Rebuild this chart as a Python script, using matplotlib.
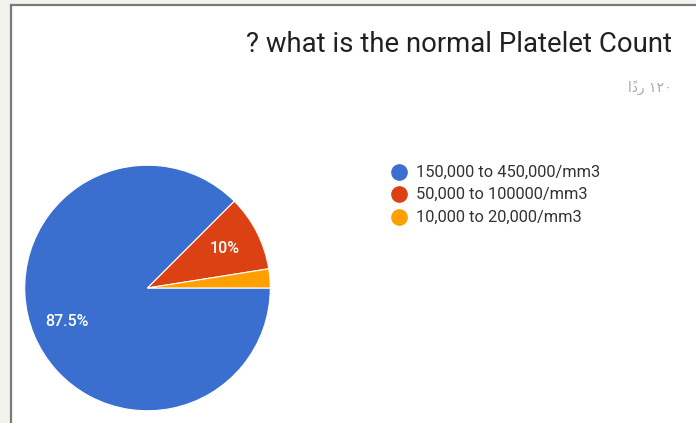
import matplotlib
matplotlib.use("Agg")
import matplotlib.pyplot as plt
from matplotlib.patches import Rectangle
from matplotlib.lines import Line2D

title = "? what is the normal Platelet Count"
subtitle = "\u0627\u064b\u062f\u0631 \u0661\u0662\u0660"  # visual order of "١٢٠ رداً"
categories = ["150,000 to 450,000/mm3", "50,000 to 100000/mm3", "10,000 to 20,000/mm3"]
values = [87.5, 10.0, 2.5]
colors = ["#3a6ecf", "#dc4113", "#ffa000"]

W, H = 696, 423
fig = plt.figure(figsize=(W / 100, H / 100), dpi=100)
fig.patch.set_facecolor("#f3f3ee")

# white panel with grey border
panel = Rectangle((11 / W, 0), 1 - 11 / W, (H - 6) / H, transform=fig.transFigure,
                  facecolor="white", edgecolor="none", zorder=-10)
fig.patches.append(panel)
fig.add_artist(Line2D([10.5 / W, 10.5 / W], [0, (H - 5.5) / H], transform=fig.transFigure,
                      color="#7a7a7a", lw=1.6, zorder=-5))
fig.add_artist(Line2D([10.5 / W, 1], [(H - 5.5) / H, (H - 5.5) / H], transform=fig.transFigure,
                      color="#7a7a7a", lw=1.6, zorder=-5))

cx, cy, r = 147.5, 288, 124
ax = fig.add_axes([(cx - r) / W, (H - cy - r) / H, 2 * r / W, 2 * r / H])
ax.set_zorder(5)
ax.patch.set_visible(False)

def fmt(p):
    if p < 5:
        return ""
    s = f"{p:.1f}"
    if s.endswith(".0"):
        s = s[:-2]
    return s + "%"

wedges, texts, autotexts = ax.pie(values, colors=colors, startangle=0, counterclock=False,
                                  autopct=fmt, pctdistance=0.71, radius=1,
                                  wedgeprops=dict(edgecolor="white", linewidth=0.8),
                                  textprops=dict(color="white", fontsize=11.5, family="Roboto",
                                                 fontweight="medium"))
ax.set_xlim(-1.01, 1.01)
ax.set_ylim(-1.01, 1.01)
ax.axis("off")

fig.text(672 / W, 1 - 45 / H, title, ha="right", va="center", fontsize=19.8,
         family="Roboto", color="#212121")
fig.text(672 / W, 1 - 88 / H, subtitle, ha="right", va="center", fontsize=10,
         family=["DejaVu Sans"], color="#a8a8a8")

ys = [172, 194, 217]
for cat, col, y in zip(categories, colors, ys):
    fig.add_artist(Line2D([399 / W], [1 - y / H], marker="o", markersize=11,
                          color=col, transform=fig.transFigure, linestyle="none"))
    fig.text(416 / W, 1 - y / H, cat, ha="left", va="center", fontsize=11.8,
             family="Roboto", color="#333333")

fig.savefig("out.png", dpi=100, facecolor=fig.get_facecolor())
